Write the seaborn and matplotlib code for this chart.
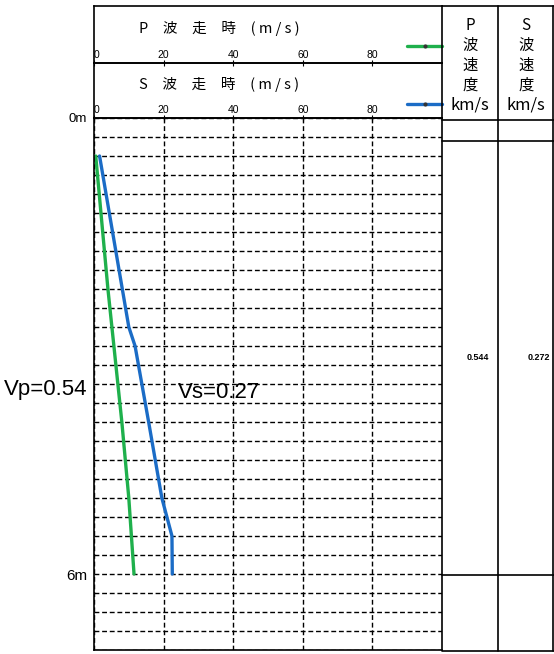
import matplotlib
matplotlib.use("Agg")
import matplotlib.pyplot as plt
import seaborn as sns
import numpy as np

# travel time readings (ms, labelled m/s on the sheet) against depth (m)
p_depth = [0.5, 2.25, 4.0, 5.0, 6.0]
p_time = [0.5, 4.0, 8.0, 10.0, 11.5]
s_depth = [0.5, 2.75, 3.0, 4.0, 5.0, 5.5, 6.0]
s_time = [1.6, 10.0, 11.8, 15.7, 19.5, 22.4, 22.5]

vp = 0.544
vs = 0.272
vp_label = "Vp=0.54"
vs_label = "Vs=0.27"
x_ticks = [0, 20, 40, 60, 80]
depth_ticks = [0, 6]
depth_labels = ["0m", "6m"]

green = "#1fb04c"
blue = "#1b6cc6"

sns.set_theme(style="white")
plt.rcParams['font.family'] = ['Liberation Sans', 'Noto Sans CJK JP', 'DejaVu Sans']
plt.rcParams['text.color'] = 'black'
plt.rcParams['xtick.color'] = 'black'
plt.rcParams['ytick.color'] = 'black'
jp = ['Noto Sans CJK JP', 'DejaVu Sans']

W, H = 554, 654
fig = plt.figure(figsize=(W / 100, H / 100), dpi=100)

def box(l, t, r, b):
    return [l / W, 1 - b / H, (r - l) / W, (b - t) / H]

#Main chart
ax = fig.add_axes(box(94, 118, 442, 650), zorder=3)
ax.patch.set_alpha(0)
sns.lineplot(x=p_time, y=p_depth, sort=False, estimator=None, color=green, lw=2.4, ax=ax)
sns.lineplot(x=s_time, y=s_depth, sort=False, estimator=None, color=blue, lw=2.4, ax=ax)
ax.set_xlim(0, 100)
ax.set_ylim(7, 0)
ax.set_xticks(x_ticks)
ax.set_xticks([100], minor=True)
ax.xaxis.tick_top()
ax.tick_params(axis='x', which='major', direction='inout', length=5, width=0.8,
               labelsize=7.5, pad=0, colors='black')
ax.tick_params(axis='x', which='minor', length=0)
ax.set_yticks(depth_ticks)
ax.set_yticklabels(depth_labels)
ax.set_yticks(np.arange(0, 7.01, 0.25), minor=True)
ax.tick_params(axis='y', which='both', direction='out', length=4, width=0.8,
               labelsize=11, pad=1, colors='black')
ax.yaxis.get_ticklabels()[0].set_fontsize(9.5)
ax.xaxis.get_ticklabels()[0].set_ha('left')
ax.grid(True, which='both', axis='y', color='black', ls=(0, (3.5, 2)), lw=1.0)
ax.grid(True, which='major', axis='x', color='black', ls=(0, (3.5, 2)), lw=1.0)
ax.set_xlabel("")
ax.set_ylabel("")
for sp in ax.spines.values():
    sp.set_color('black')
    sp.set_linewidth(1.2)

#Header boxes
axp = fig.add_axes(box(94, 6, 442, 63), zorder=1)
axs = fig.add_axes(box(94, 63, 442, 118), zorder=2)
for a in (axp, axs):
    a.patch.set_alpha(0)
    a.set_xlim(0, 100)
    a.set_ylim(0, 1)
    a.set_yticks([])
    for sp in a.spines.values():
        sp.set_color('black')
        sp.set_linewidth(1.2)
axp.set_xticks([])
axs.set_xticks(x_ticks)
axs.xaxis.tick_top()
axs.tick_params(axis='x', direction='inout', length=5, width=0.8, labelsize=7.5, pad=0)
axs.xaxis.get_ticklabels()[0].set_ha('left')
axp.text(13, 0.6, "P　波　走　時　( m / s )", family=jp, fontsize=10.5, va='center')
axs.text(13, 0.6, "S　波　走　時　( m / s )", family=jp, fontsize=10.5, va='center')
axp.plot([90, 95, 100], [0.3, 0.3, 0.3], color=green, lw=2.4, marker='o', ms=2,
         mfc='#333333', mec='#333333', markevery=[1], clip_on=False)
axs.plot([90, 95, 100], [0.25, 0.25, 0.25], color=blue, lw=2.4, marker='o', ms=2,
         mfc='#333333', mec='#333333', markevery=[1], clip_on=False)

#Right-hand table and notes
ov = fig.add_axes([0, 0, 1, 1], zorder=10)
ov.set_xlim(0, W)
ov.set_ylim(H, 0)
ov.axis('off')
ov.patch.set_alpha(0)
for x in (498, 553):
    ov.plot([x, x], [6, 651], color='black', lw=1.2)
for y in (6, 120, 141, 575, 651):
    ov.plot([442, 554], [y, y], color='black', lw=1.2)
for cx, c in ((470, "P"), (526, "S")):
    for i, ch in enumerate([c, "波", "速", "度"]):
        ov.text(cx, 25 + i * 20, ch, family=jp, fontsize=11, ha='center', va='center')
    ov.text(cx, 105, "km/s", family=jp, fontsize=12, ha='center', va='center')
ov.text(489, 357, f"{vp:.3f}", fontsize=6.5, ha='right', va='center', weight='bold')
ov.text(550, 357, f"{vs:.3f}", fontsize=6.5, ha='right', va='center', weight='bold')
ov.text(4, 390, vp_label, fontsize=16, ha='left', va='center')
ov.text(178, 392, vs_label, fontsize=16, ha='left', va='center')

fig.savefig("out.png", dpi=100)
plt.close()
